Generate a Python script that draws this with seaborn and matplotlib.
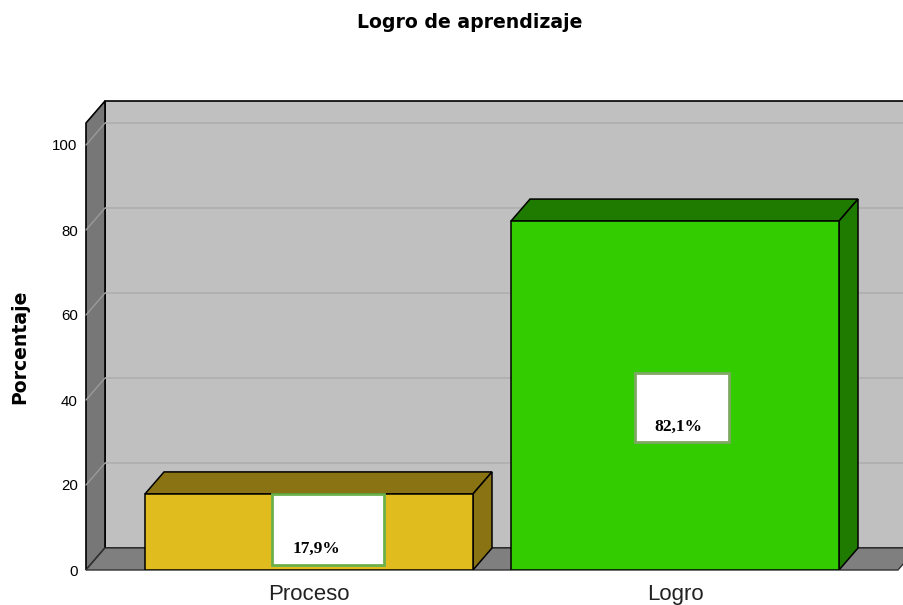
import matplotlib
matplotlib.use("Agg")
import matplotlib.pyplot as plt
import seaborn as sns
import pandas as pd
from matplotlib.patches import Polygon, Rectangle

# ---- data ----
categories = ["Proceso", "Logro"]
percentages = [17.9, 82.1]
value_labels = ["17,9%", "82,1%"]
y_ticks = [0, 20, 40, 60, 80, 100]
title = "Logro de aprendizaje"
y_label = "Porcentaje"

front_colors = ["#E1BC1E", "#33CC00"]
shade_colors = ["#8A7313", "#1F7A00"]

sns.set_theme(style="white")
plt.rcParams['font.family'] = ['DejaVu Sans']
plt.rcParams['text.color'] = 'black'

W, H = 904, 605
fig = plt.figure(figsize=(W / 100, H / 100), dpi=100)

# pixel geometry of the plotting frame
px_left, px_right, px_zero, px_top = 86, 904, 570, 101
py_per_unit = 4.25
px_cat0, px_per_cat = 309, 366
ax = fig.add_axes([px_left / W, (H - px_zero) / H, (px_right - px_left) / W,
                   (px_zero - px_top) / H])

x0 = -(px_cat0 - px_left) / px_per_cat
x1 = x0 + (px_right - px_left) / px_per_cat
ytop = (px_zero - px_top) / py_per_unit
dx = 19 / px_per_cat
dy = 22 / py_per_unit
wall_top = ytop - dy
bar_w = 328 / px_per_cat

df = pd.DataFrame({"cat": categories, "pct": percentages})
sns.barplot(data=df, x="cat", y="pct", hue="cat", palette=front_colors,
            width=bar_w, edgecolor="black", linewidth=1.1, legend=False,
            ax=ax, zorder=3, saturation=1)

# walls and floor
back = Polygon([(x0 + dx, dy), (x1 + 1, dy), (x1 + 1, ytop), (x0 + dx, ytop)],
               closed=True, facecolor="#C0C0C0", edgecolor="black", lw=1.2,
               zorder=0.5, clip_on=False)
ax.add_patch(back)
left_wall = Polygon([(x0, 0), (x0 + dx, dy), (x0 + dx, ytop), (x0, wall_top)],
                    closed=True, facecolor="#777777", edgecolor="black", lw=1.2,
                    zorder=0.6, clip_on=False)
ax.add_patch(left_wall)
floor_right = (898 - px_cat0) / px_per_cat
floor = Polygon([(x0, 0), (floor_right, 0), (floor_right + dx, dy), (x1 + 1, dy),
                 (x0 + dx, dy)], closed=True, facecolor="#7F7F7F",
                edgecolor="#333333", lw=1.0, zorder=0.7, clip_on=False)
ax.add_patch(floor)

# gridlines
for v in y_ticks[1:]:
    ax.plot([x0 + dx, x1 + 1], [v + dy, v + dy], color="#AEAEAE", lw=1.2,
            zorder=0.8, solid_capstyle="butt", clip_on=False)
    ax.plot([x0, x0 + dx], [v, v + dy], color="#9A9A9A", lw=1.0, zorder=0.8,
            clip_on=False)

# 3D faces of bars
for i, (v, sc) in enumerate(zip(percentages, shade_colors)):
    l, r = i - bar_w / 2, i + bar_w / 2
    top = Polygon([(l, v), (l + dx, v + dy), (r + dx, v + dy), (r, v)],
                  closed=True, facecolor=sc, edgecolor="black", lw=1.1, zorder=2.5)
    side = Polygon([(r, 0), (r + dx, dy), (r + dx, v + dy), (r, v)],
                   closed=True, facecolor=sc, edgecolor="black", lw=1.1, zorder=2.5)
    ax.add_patch(top)
    ax.add_patch(side)

# value label boxes (pixel geometry of the boxes)
box_px = [(272, 384, 494, 565), (635, 729, 373, 442)]
text_px = [(316, 549), (678, 427)]
box_edges = ["#6CB04A", "#7FA862"]
for (bl, br, bt, bb), (tx, ty), lab, ec in zip(box_px, text_px, value_labels, box_edges):
    xl = (bl - px_cat0) / px_per_cat
    xr = (br - px_cat0) / px_per_cat
    yb = (px_zero - bb) / py_per_unit
    yt = (px_zero - bt) / py_per_unit
    ax.add_patch(Rectangle((xl, yb), xr - xl, yt - yb, facecolor="white",
                           edgecolor=ec, lw=2, zorder=4))
    ax.text((tx - px_cat0) / px_per_cat, (px_zero - ty) / py_per_unit, lab,
            ha="center", va="center", fontsize=12.5, fontweight="bold",
            color="black", family=["Liberation Serif", "DejaVu Serif"], zorder=5)

ax.set_xlim(x0, x1)
ax.set_ylim(0, ytop)
for s in ax.spines.values():
    s.set_visible(False)
ax.set_yticks(y_ticks)
ax.set_yticklabels([str(t) for t in y_ticks], fontsize=10.8,
                   family=["Liberation Sans", "DejaVu Sans"], color="black")
ax.set_xticks(range(len(categories)))
ax.set_xticklabels(categories, fontsize=16, family=["Liberation Sans", "DejaVu Sans"],
                   color="#222222")
ax.tick_params(axis="y", length=0, pad=6)
ax.tick_params(axis="x", length=0, pad=10)
ax.set_xlabel("")
ax.set_ylabel("")
ax.grid(False)

fig.text(20 / W, 1 - 347 / H, y_label, rotation=90, ha="center", va="center",
         fontsize=13.6, fontweight="bold", color="black")
fig.text(470 / W, 1 - 22 / H, title, ha="center", va="center", fontsize=13.6,
         fontweight="bold", color="black")

fig.savefig("out.png", dpi=100, facecolor="white")
